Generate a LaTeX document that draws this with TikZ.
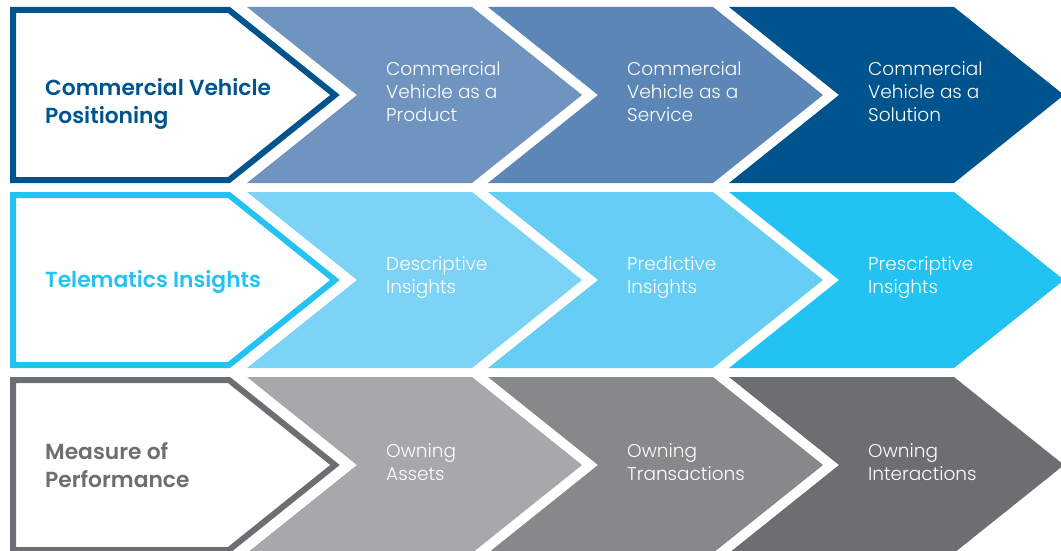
\documentclass[tikz,border=0pt]{standalone}
\usepackage{fontspec}
\setmainfont{Poppins}[UprightFont=* Light, BoldFont=* SemiBold]

\definecolor{navy}{HTML}{00548E}
\definecolor{steelA}{HTML}{6F94C0}
\definecolor{steelB}{HTML}{5B86B6}
\definecolor{skyA}{HTML}{7DD3F6}
\definecolor{skyB}{HTML}{66CDF5}
\definecolor{skyC}{HTML}{22C3F2}
\definecolor{greyA}{HTML}{A7A8AB}
\definecolor{greyB}{HTML}{87888A}
\definecolor{greyC}{HTML}{6D6E71}

% one filled chevron: left x, top y, colour
\newcommand{\chevron}[3]{%
  \fill[#3] (#1,#2) -- ++(225,0) -- ++(110,88) -- ++(-110,88) -- ++(-225,0) -- ++(110,-88) -- cycle;}

\tikzset{
  headtxt/.style={anchor=west, inner sep=0pt, align=left, font=\fontsize{21.8}{28}\selectfont\bfseries},
  steptxt/.style={anchor=west, inner sep=0pt, align=left, text=white, font=\fontsize{18.5}{23}\selectfont}
}

\begin{document}
\begin{tikzpicture}[x=1pt,y=-1pt]
    \useasboundingbox (0,0) rectangle (1061,551);

    \foreach \t/\edge/\ca/\cb/\cc in {7/navy/steelA/steelB/navy, 192/skyC/skyA/skyB/skyC, 377/greyC/greyA/greyB/greyC}
        {\chevron{247}{\t}{\ca}
            \chevron{488}{\t}{\cb}
            \chevron{729}{\t}{\cc}
            \draw[\edge, line width=6pt, line join=miter] (13,\t+3) -- (229,\t+3) -- (335,\t+88)
                -- (229,\t+173) -- (13,\t+173) -- cycle;
        }

    \node[headtxt, text=navy] (pos) at (45,103.5) {Commercial Vehicle\\Positioning};
    \node[headtxt, text=skyC] (tel) at (45,282) {Telematics Insights};
    \node[headtxt, text=greyC] (mop) at (45,465) {Measure of\\Performance};

    \node[steptxt] (prod) at (386,92) {Commercial\\Vehicle as a\\Product};
    \node[steptxt] (serv) at (627,92) {Commercial\\Vehicle as a\\Service};
    \node[steptxt] (solu) at (868,92) {Commercial\\Vehicle as a\\Solution};

    \node[steptxt] (desc) at (386,278) {Descriptive\\Insights};
    \node[steptxt] (pred) at (627,278) {Predictive\\Insights};
    \node[steptxt] (pres) at (868,278) {Prescriptive\\Insights};

    \node[steptxt] (asse) at (386,462) {Owning\\Assets};
    \node[steptxt] (tran) at (627,462) {Owning\\Transactions};
    \node[steptxt] (inte) at (868,462) {Owning\\Interactions};
\end{tikzpicture}
\end{document}
